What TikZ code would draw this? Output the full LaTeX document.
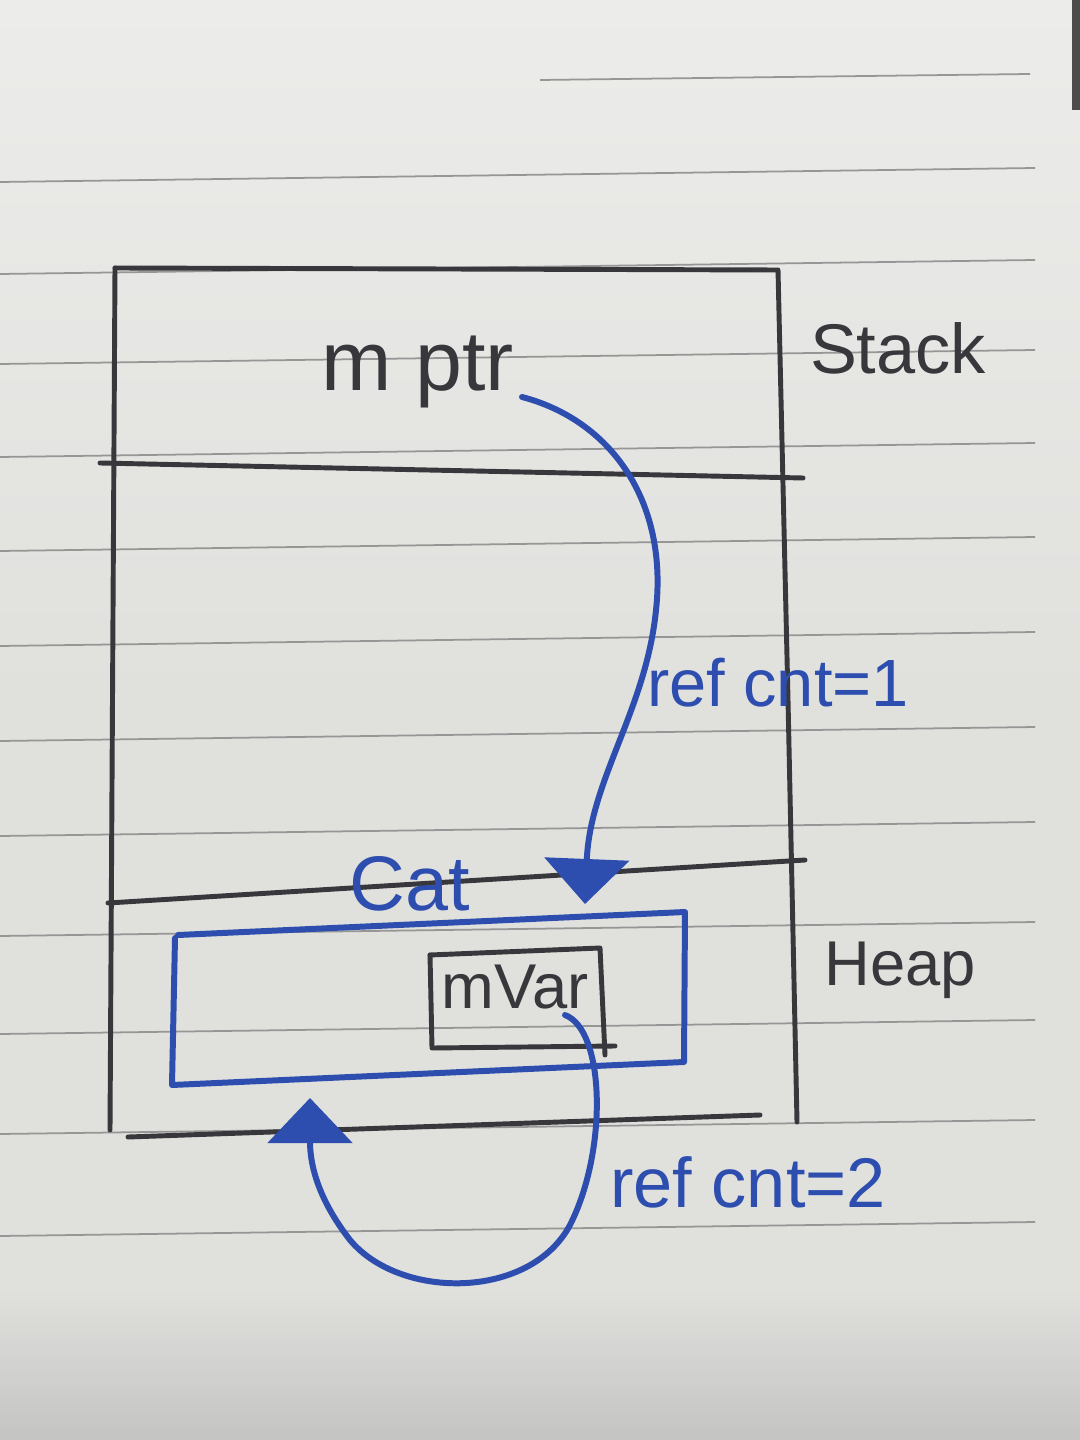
\documentclass[tikz,border=0pt]{standalone}
\usepackage{fontspec}
\setmainfont{Liberation Sans}
\usetikzlibrary{arrows.meta}
\definecolor{papertop}{RGB}{236,236,234}
\definecolor{paper}{RGB}{224,224,221}
\definecolor{paperlow}{RGB}{196,196,195}
\definecolor{rule}{RGB}{150,150,150}
\definecolor{ink}{RGB}{55,55,60}
\definecolor{blueink}{RGB}{45,78,175}
\tikzset{
  blackline/.style={draw=ink, line width=1.4pt, line cap=round, line join=round},
  blueline/.style={draw=blueink, line width=1.7pt, line cap=round, line join=round},
  rulingline/.style={draw=rule, line width=0.5pt},
  blacktext/.style={text=ink, inner sep=0pt},
  bluetext/.style={text=blueink, inner sep=0pt},
  pointer/.style={blueline, -{Triangle[length=0.45cm,width=0.84cm]}},
}
\begin{document}
\begin{tikzpicture}[x=0.01cm,y=-0.01cm]
\useasboundingbox (0,0) rectangle (1080,1440);
\shade[top color=papertop, bottom color=paper] (0,0) rectangle (1080,700);
\fill[paper] (0,699) rectangle (1080,1290);
\shade[top color=paper, bottom color=paperlow] (0,1289) rectangle (1080,1440);
\fill[black!70] (1072,0) rectangle (1080,110);
% ruled paper lines
\foreach \r in {168,260,350,443,537,632,727,822,922,1020,1120,1222}{
  \draw[rulingline] (0,\r+14) -- (1035,\r);
}
\draw[rulingline] (540,80) -- (1030,74);
% frame (stack / heap)
\draw[blackline] (115,268) -- (778,270) -- (788,700) -- (797,1122);
\draw[blackline] (115,268) -- (110,1130);
\draw[blackline] (100,463) -- (803,478);
\draw[blackline] (108,903) -- (805,860);
\draw[blackline] (128,1137) -- (760,1115);
% Cat object
\draw[blueline] (178,935) -- (685,912) -- (684,1062) -- (172,1085) -- (175,938);
% mVar field
\draw[blackline] (430,955) -- (600,948) -- (605,1055);
\draw[blackline] (430,955) -- (432,1048) -- (615,1046);
% texts
\node[blacktext, font=\fontsize{24}{28}\selectfont] (mptr) at (418,372) {m ptr};
\node[blacktext, font=\fontsize{20}{24}\selectfont] (stack) at (898,348) {Stack};
\node[blacktext, font=\fontsize{18}{22}\selectfont] (heap) at (900,970) {Heap};
\node[bluetext, font=\fontsize{19}{23}\selectfont] (rc1) at (778,683) {ref cnt=1};
\node[bluetext, font=\fontsize{22}{26}\selectfont] (cat) at (410,884) {Cat};
\node[blacktext, font=\fontsize{18}{22}\selectfont] (mvar) at (515,987) {mVar};
\node[bluetext, font=\fontsize{20}{24}\selectfont] (rc2) at (748,1182) {ref cnt=2};
% connectors
\coordinate (ptrstart) at (522,397);
\coordinate (cattop) at (585,904);
\coordinate (varstart) at (565,1015);
\coordinate (catbottom) at (310,1098);
\draw[pointer] (ptrstart) .. controls (610,420) and (668,500) .. (656,610)
   .. controls (646,710) and (590,780) .. (cattop);
\draw[pointer] (varstart) .. controls (605,1030) and (608,1150) .. (570,1225)
   .. controls (530,1300) and (400,1300) .. (350,1240)
   .. controls (315,1195) and (310,1160) .. (catbottom);
\end{tikzpicture}
\end{document}
